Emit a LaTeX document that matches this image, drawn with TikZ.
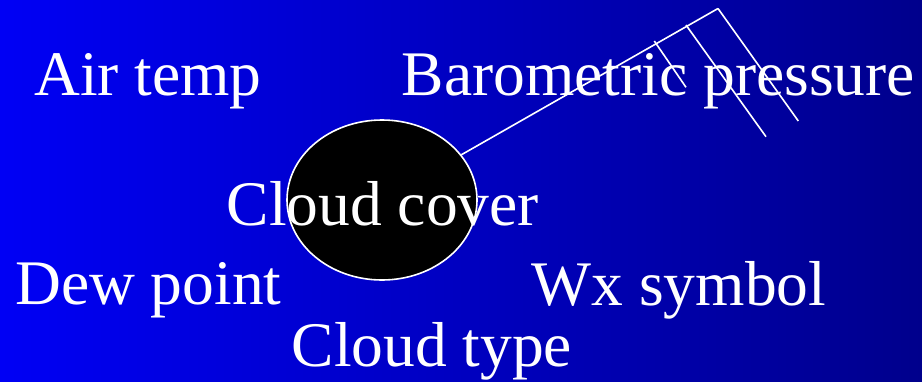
\documentclass[tikz,border=0pt]{standalone}
\usepackage{fontspec}
\setmainfont{Liberation Serif}
\usepackage{xcolor}
\usepackage{tikz}
\usetikzlibrary{shapes.geometric}

\definecolor{fondoA}{RGB}{0,0,245}
\definecolor{fondoB}{RGB}{0,0,218}
\definecolor{fondoC}{RGB}{0,0,140}

\begin{document}
\begin{tikzpicture}[x=1pt,y=-1pt,
  etq/.style={anchor=base west,inner sep=0pt,text=white,
              font=\fontsize{63.5}{70}\selectfont},
  nube/.style={ellipse,draw=white,fill=black,line width=1.6pt,
               minimum width=190pt,minimum height=160pt,inner sep=0pt},
  asta/.style={draw=white,line width=1.6pt}]

  % fondo
  \useasboundingbox (0,0) rectangle (922,381);
  \shade[left color=fondoA,middle color=fondoB,right color=fondoC]
    (0,0) rectangle (922,381);

  \node[nube] (cob) at (382,200) {};

  % viento
  \coordinate (pta) at (718,8.5);
  \coordinate (ba1) at (686,25);
  \coordinate (ba2) at (654.3,41);
  \coordinate (fb0) at (798.3,121);
  \coordinate (fb1) at (766,136.7);
  \coordinate (fb2) at (686,87.3);
  \draw[asta] (cob) -- (pta);
  \draw[asta] (pta) -- (fb0);
  \draw[asta] (ba1) -- (fb1);
  \draw[asta] (ba2) -- (fb2);

  \node[etq] (tai) at (34,95.7)   {Air temp};
  \node[etq] (pre) at (401.5,95.7) {Barometric pressure};
  \node[etq] (cub) at (226.5,225) {Cloud cover};
  \node[etq] (roc) at (15,304.5)  {Dew point};
  \node[etq] (wx)  at (531.5,305) {Wx symbol};
  \node[etq] (tip) at (291.5,366.7) {Cloud type};
\end{tikzpicture}
\end{document}
